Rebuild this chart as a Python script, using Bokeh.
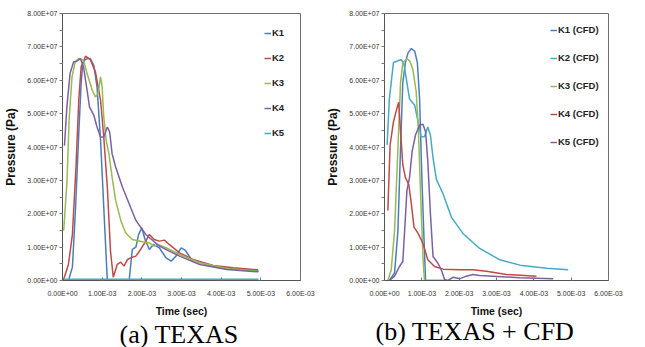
import numpy as np
from bokeh.plotting import figure
from bokeh.models import Range1d, FixedTicker, Legend, LegendItem, Title
from bokeh.layouts import row
from bokeh.embed import file_html
from bokeh.resources import INLINE

# time in units of 1E-03 s, pressure in units of 1E+07 Pa
x_ticks = [0, 1, 2, 3, 4, 5, 6]
x_tick_labels = ["0.00E+00", "1.00E-03", "2.00E-03", "3.00E-03", "4.00E-03", "5.00E-03", "6.00E-03"]
y_ticks = [0, 1, 2, 3, 4, 5, 6, 7, 8]
y_tick_labels = ["0.00E+00", "1.00E+07", "2.00E+07", "3.00E+07", "4.00E+07",
                 "5.00E+07", "6.00E+07", "7.00E+07", "8.00E+07"]

# ---- (a) TEXAS ----
a_k1_t = [0.05, 0.15, 0.25, 0.33, 0.41, 0.47, 0.51, 0.56, 0.62, 0.7, 0.79, 0.87, 0.96, 1.04, 1.13,
          1.68, 1.76, 1.85, 1.92, 2.0, 2.08, 2.19, 2.29, 2.44, 2.61, 2.74, 2.86, 2.99, 3.1, 3.25,
          3.63, 4.14, 4.94]
a_k1_p = [0.0, 0.0, 0.4, 2.2, 4.4, 5.9, 6.5, 6.6, 6.65, 6.65, 6.45, 5.8, 4.2, 2.2, 0.0,
          0.0, 0.93, 1.0, 1.38, 1.58, 1.23, 0.93, 1.08, 0.98, 0.68, 0.58, 0.73, 0.98, 0.9, 0.63,
          0.48, 0.36, 0.3]
a_k2_t = [0.02, 0.15, 0.25, 0.34, 0.41, 0.47, 0.58, 0.7, 0.83, 0.96, 1.04, 1.13, 1.21, 1.28,
          1.38, 1.47, 1.55, 1.64, 1.72, 1.85, 1.97, 2.1, 2.19, 2.31, 2.44, 2.57, 2.69, 2.95,
          3.29, 3.8, 4.3, 4.93]
a_k2_p = [0.0, 0.48, 1.38, 3.4, 5.4, 6.4, 6.72, 6.62, 6.25, 5.4, 4.3, 2.8, 0.88, 0.1,
          0.48, 0.55, 0.43, 0.63, 0.68, 0.73, 0.93, 1.18, 1.38, 1.23, 1.18, 1.21, 1.08, 0.83,
          0.63, 0.45, 0.38, 0.32]
a_k3_t = [0.03, 0.11, 0.17, 0.24, 0.32, 0.41, 0.53, 0.62, 0.75, 0.83, 0.9, 0.96, 1.0, 1.04,
          1.1, 1.17, 1.25, 1.34, 1.47, 1.59, 1.76, 2.02, 2.19, 2.31, 2.4, 2.61, 2.95, 3.46,
          4.14, 4.94]
a_k3_p = [1.5, 2.9, 4.9, 6.1, 6.55, 6.65, 6.6, 6.2, 5.7, 5.5, 5.6, 6.1, 5.8, 4.9,
          4.2, 3.8, 3.1, 2.4, 1.8, 1.43, 1.23, 1.16, 1.13, 1.03, 1.08, 0.98, 0.78, 0.53,
          0.36, 0.28]
a_k4_t = [0.05, 0.11, 0.19, 0.28, 0.36, 0.45, 0.53, 0.62, 0.68, 0.79, 0.87, 0.96, 1.04, 1.13,
          1.19, 1.25, 1.34, 1.51, 1.68, 1.85, 2.1, 2.44, 2.95, 3.46, 4.14, 4.94]
a_k4_p = [4.04, 5.2, 6.2, 6.55, 6.57, 6.65, 6.4, 5.7, 5.2, 4.95, 4.6, 4.3, 4.3, 4.6,
          4.45, 3.8, 3.4, 2.8, 2.3, 1.8, 1.38, 1.03, 0.73, 0.48, 0.33, 0.26]
a_k5_t = [0.05, 4.94]
a_k5_p = [0.0, 0.0]

# ---- (b) TEXAS + CFD ----
b_k1_t = [0.13, 0.27, 0.36, 0.43, 0.49, 0.56, 0.63, 0.72, 0.81, 0.88, 0.94, 0.99, 1.05, 1.1, 1.6]
b_k1_p = [0.0, 0.23, 1.5, 3.97, 5.93, 6.53, 6.82, 6.95, 6.87, 6.53, 5.44, 3.47, 1.5, 0.0, 0.0]
b_k2_t = [0.07, 0.13, 0.24, 0.33, 0.45, 0.52, 0.6, 0.67, 0.81, 0.9, 0.98, 1.07, 1.16, 1.23,
          1.3, 1.39, 1.57, 1.79, 2.1, 2.55, 3.09, 3.63, 4.34, 4.92]
b_k2_p = [4.06, 5.44, 6.53, 6.57, 6.62, 6.48, 5.93, 5.44, 5.25, 4.75, 4.31, 4.31, 4.6, 4.36,
          3.67, 3.03, 2.59, 1.9, 1.41, 0.96, 0.62, 0.46, 0.37, 0.32]
b_k3_t = [0.09, 0.18, 0.27, 0.36, 0.43, 0.49, 0.6, 0.67, 0.76, 0.85, 0.91, 0.97, 1.03, 1.07, 1.57]
b_k3_p = [0.0, 0.32, 1.5, 3.97, 5.93, 6.53, 6.64, 6.59, 6.33, 5.64, 4.46, 2.49, 0.72, 0.0, 0.0]
b_k4_t = [0.09, 0.15, 0.24, 0.33, 0.38, 0.43, 0.49, 0.56, 0.65, 0.72, 0.79, 0.9, 1.03, 1.16,
          1.34, 1.57, 2.01, 2.37, 2.73, 3.27, 4.07]
b_k4_p = [2.1, 4.06, 4.75, 5.15, 5.34, 4.46, 3.47, 3.08, 2.88, 2.29, 1.6, 1.41, 1.11, 0.62,
          0.42, 0.34, 0.32, 0.32, 0.28, 0.18, 0.13]
b_k5_t = [0.13, 0.27, 0.4, 0.49, 0.54, 0.6, 0.67, 0.74, 0.83, 0.94, 1.03, 1.1, 1.16, 1.23,
          1.3, 1.43, 1.52, 1.61, 1.7, 1.84, 2.01, 2.19, 2.37, 2.55, 2.91, 3.63, 4.52]
b_k5_p = [0.0, 0.13, 0.42, 0.57, 1.5, 2.69, 3.08, 3.87, 4.36, 4.66, 4.68, 4.46, 3.57, 2.0,
          0.72, 0.52, 0.32, 0.03, 0.0, 0.1, 0.05, 0.13, 0.18, 0.15, 0.13, 0.08, 0.05]

BLUE, RED, GREEN, PURPLE, CYAN = "#4A7EBB", "#BE4B48", "#98B954", "#7D60A0", "#46AAC5"

a_series = [("K1", a_k1_t, a_k1_p, BLUE, 1.5), ("K2", a_k2_t, a_k2_p, RED, 1.5),
            ("K3", a_k3_t, a_k3_p, GREEN, 1.5), ("K4", a_k4_t, a_k4_p, PURPLE, 1.5),
            ("K5", a_k5_t, a_k5_p, CYAN, 4.0)]
b_series = [("K1 (CFD)", b_k1_t, b_k1_p, BLUE, 1.5), ("K2 (CFD)", b_k2_t, b_k2_p, CYAN, 1.5),
            ("K3 (CFD)", b_k3_t, b_k3_p, GREEN, 1.5), ("K4 (CFD)", b_k4_t, b_k4_p, RED, 1.5),
            ("K5 (CFD)", b_k5_t, b_k5_p, PURPLE, 1.5)]


def make_panel(series, caption, width, height, bl, br, bt, bb, leg_xy, leg_spacing,
               cap_offset, cap_standoff):
    p = figure(width=width, height=height, x_range=Range1d(0, 6), y_range=Range1d(0, 8),
               output_backend="svg", toolbar_location=None,
               min_border_left=bl, min_border_right=br, min_border_top=bt, min_border_bottom=bb)
    p.xgrid.visible = False
    p.ygrid.visible = False
    p.outline_line_color = "#6f6f6f"
    p.outline_line_width = 1
    p.background_fill_color = "white"
    p.border_fill_color = "white"

    p.xaxis.ticker = FixedTicker(ticks=x_ticks, minor_ticks=[])
    p.yaxis.ticker = FixedTicker(ticks=y_ticks, minor_ticks=[t + 0.5 for t in y_ticks[:-1]])
    p.xaxis.major_label_overrides = dict(zip(x_ticks, x_tick_labels))
    p.yaxis.major_label_overrides = dict(zip(y_ticks, y_tick_labels))
    for ax in (p.xaxis, p.yaxis):
        ax.axis_line_color = "#555555"
        ax.major_tick_line_color = "#777777"
        ax.minor_tick_line_color = "#777777"
        ax.major_label_text_font = "Liberation Sans"
        ax.major_label_text_font_size = "7px"
        ax.major_label_text_color = "#333333"
        ax.axis_label_text_font = "Liberation Sans"
        ax.axis_label_text_font_style = "bold"
        ax.axis_label_text_color = "#111111"
    p.xaxis.major_tick_in = 3
    p.xaxis.major_tick_out = 0
    p.xaxis.major_label_standoff = 9
    p.yaxis.major_tick_in = 0
    p.yaxis.major_tick_out = 3
    p.yaxis.minor_tick_in = 0
    p.yaxis.minor_tick_out = 3
    p.yaxis.major_label_standoff = 2
    p.xaxis.axis_label = "Time (sec)"
    p.xaxis.axis_label_text_font_size = "10.5px"
    p.xaxis.axis_label_standoff = 5
    p.yaxis.axis_label = "Pressure (Pa)"
    p.yaxis.axis_label_text_font_size = "12px"
    p.yaxis.axis_label_standoff = 6

    items = []
    for name, t, pr, color, lw in series:
        r = p.line(np.array(t), np.array(pr), line_color=color, line_width=lw)
        if lw > 2:
            # thin copy of the same series so the legend sample matches the others
            r = p.line(np.array(t), np.array(pr), line_color=color, line_width=1.5)
        items.append(LegendItem(label=name, renderers=[r]))
    leg = Legend(items=items, location=leg_xy, margin=0, padding=0,
                 spacing=leg_spacing, glyph_width=7, glyph_height=10, label_standoff=1,
                 label_height=10, label_text_font="Liberation Sans",
                 label_text_font_size="9.5px", label_text_font_style="bold",
                 label_text_color="#222222", border_line_color=None,
                 background_fill_alpha=0)
    p.add_layout(leg)

    p.add_layout(Title(text=caption, text_font="Liberation Serif", text_font_size="26px",
                       text_font_style="normal", text_color="black", align="left",
                       offset=cap_offset, standoff=cap_standoff), "below")
    return p


pa = make_panel(a_series, "(a) TEXAS", 322, 347, 62, 22, 13, 67, (202, 142), 14, 57, -4)
pb = make_panel(b_series, "(b) TEXAS + CFD", 320, 347, 62, 34, 13, 63, (166, 133), 17, -9, -10)

layout = row(pa, pb)
open("out.html", "w").write(file_html(layout, INLINE))
